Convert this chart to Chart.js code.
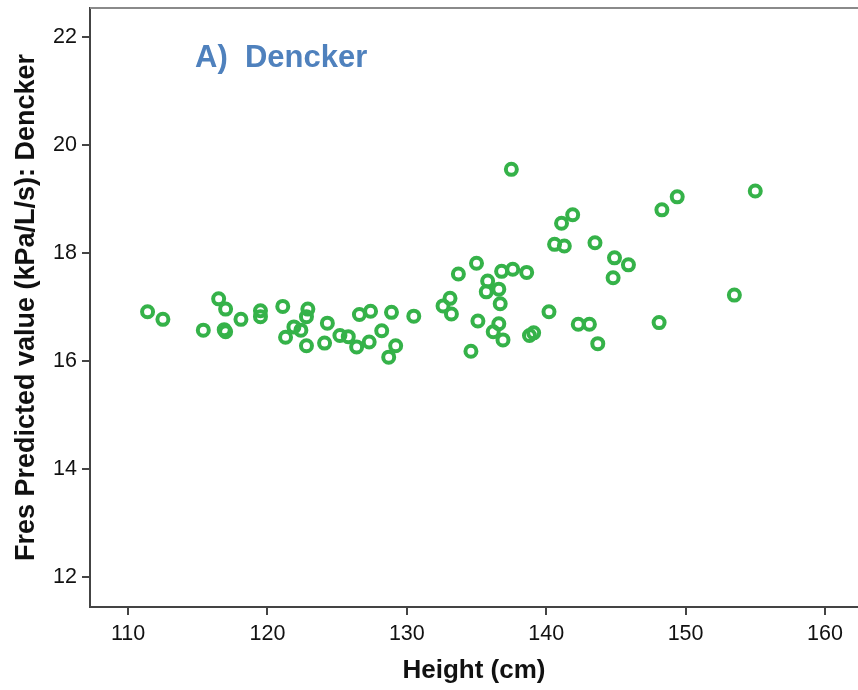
<!DOCTYPE html>
<html>
<head>
<meta charset="utf-8">
<script src="https://cdn.jsdelivr.net/npm/chart.js@4"></script>
<style>
  body { margin: 0; background: #fff; }
  #wrap { width: 858px; height: 690px; position: relative; }
</style>
</head>
<body>
<div id="wrap"><canvas id="chart"></canvas></div>
<script>
// Height (cm) of each child
const heights = [
  111.4, 112.5, 115.4, 116.5, 117.0, 116.9, 117.0, 118.1, 119.5, 119.5,
  121.1, 121.3, 121.9, 122.4, 122.9, 122.8, 122.8, 124.3, 124.1, 125.2,
  125.8, 126.4, 126.6, 127.4, 127.3, 128.2, 128.9, 129.2, 128.7, 130.5,
  132.6, 133.1, 133.2, 133.7, 135.0, 134.6, 135.1, 135.8, 135.7, 136.6,
  136.7, 136.8, 137.6, 138.6, 136.6, 136.2, 136.9, 137.5, 138.8, 139.1,
  140.2, 140.6, 141.3, 141.1, 141.9, 143.5, 142.3, 143.1, 143.7, 144.9,
  145.9, 144.8, 148.1, 148.3, 149.4, 153.5, 155.0
];
// Fres predicted value (kPa/L/s), Dencker equation
const fresPredicted = [
  16.91, 16.77, 16.57, 17.15, 16.96, 16.58, 16.54, 16.77, 16.93, 16.82,
  17.01, 16.44, 16.63, 16.57, 16.96, 16.82, 16.28, 16.70, 16.33, 16.47,
  16.45, 16.26, 16.86, 16.92, 16.35, 16.56, 16.90, 16.28, 16.07, 16.83,
  17.02, 17.16, 16.87, 17.61, 17.81, 16.18, 16.74, 17.48, 17.28, 17.33,
  17.06, 17.66, 17.70, 17.64, 16.69, 16.54, 16.39, 19.55, 16.47, 16.52,
  16.91, 18.16, 18.13, 18.55, 18.71, 18.19, 16.68, 16.68, 16.32, 17.91,
  17.78, 17.54, 16.71, 18.80, 19.04, 17.22, 19.15
];
const xTicks = [110, 120, 130, 140, 150, 160];
const yTicks = [12, 14, 16, 18, 20, 22];

const points = heights.map((h, i) => ({ x: h, y: fresPredicted[i] }));

// top frame line + panel label inside the plot
const framePlugin = {
  id: 'frame',
  afterDraw(chart) {
    const { ctx, chartArea } = chart;
    ctx.save();
    ctx.strokeStyle = '#8a8a8a';
    ctx.lineWidth = 2;
    ctx.beginPath();
    ctx.moveTo(chartArea.left, chartArea.top);
    ctx.lineTo(chartArea.right, chartArea.top);
    ctx.stroke();
    ctx.fillStyle = '#4f81bd';
    ctx.font = 'bold 31px "Liberation Sans", Arial, sans-serif';
    ctx.textBaseline = 'middle';
    ctx.fillText('A)  Dencker', chartArea.left + 105, chartArea.top + 50);
    ctx.restore();
  }
};

const tickFont = { family: '"Liberation Sans", Arial, sans-serif', size: 21.5 };

const ctx = document.getElementById('chart').getContext('2d');
new Chart(ctx, {
  type: 'scatter',
  data: {
    datasets: [{
      label: 'Dencker',
      data: points,
      pointRadius: 5.5,
      pointHoverRadius: 5.5,
      pointBorderWidth: 4,
      borderColor: '#35b249',
      backgroundColor: 'rgba(0,0,0,0)'
    }]
  },
  options: {
    responsive: true,
    maintainAspectRatio: false,
    animation: false,
    layout: { autoPadding: false, padding: { top: 8, right: 0, left: 0, bottom: 0 } },
    plugins: {
      legend: { display: false },
      tooltip: { enabled: false }
    },
    scales: {
      x: {
        type: 'linear',
        min: 107.27,
        max: 162.37,
        afterBuildTicks: s => { s.ticks = xTicks.map(v => ({ value: v })); },
        afterFit: s => { s.height = 83; s.paddingLeft = 0; s.paddingRight = 0; },
        ticks: { padding: 6, color: '#111', font: tickFont },
        grid: { drawOnChartArea: false, drawTicks: true, tickLength: 8, color: '#444', lineWidth: 2 },
        border: { display: true, color: '#444', width: 2 },
        title: {
          display: true,
          text: 'Height (cm)',
          color: '#111',
          padding: { top: 0, bottom: 4 },
          font: { family: '"Liberation Sans", Arial, sans-serif', size: 26, weight: 'bold' }
        }
      },
      y: {
        type: 'linear',
        min: 11.44,
        max: 22.54,
        afterBuildTicks: s => { s.ticks = yTicks.map(v => ({ value: v })); },
        afterFit: s => { s.width = 90; s.paddingTop = 0; s.paddingBottom = 0; },
        ticks: { padding: 5, color: '#111', font: tickFont },
        grid: { drawOnChartArea: false, drawTicks: true, tickLength: 8, color: '#444', lineWidth: 2 },
        border: { display: true, color: '#444', width: 2 },
        title: {
          display: true,
          text: 'Fres Predicted value (kPa/L/s): Dencker',
          color: '#111',
          padding: { top: 10, bottom: 0 },
          font: { family: '"Liberation Sans", Arial, sans-serif', size: 27, weight: 'bold' }
        }
      }
    }
  },
  plugins: [framePlugin]
});
</script>
</body>
</html>
